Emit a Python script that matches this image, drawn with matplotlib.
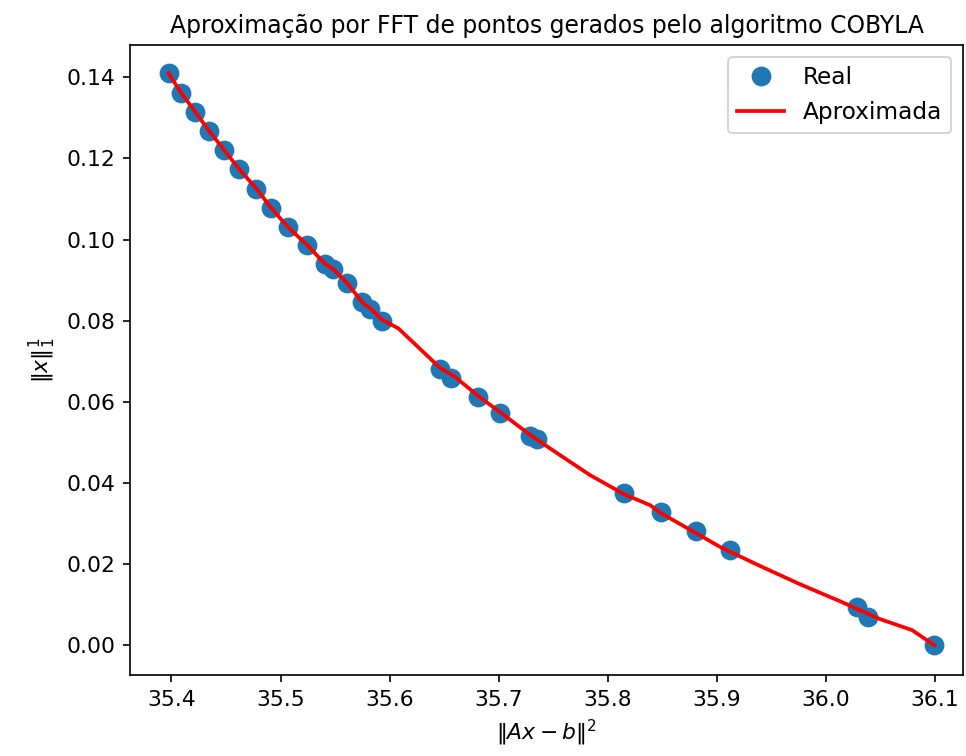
import numpy as np
import matplotlib
matplotlib.use("Agg")
from matplotlib import pyplot as plt

# pontos reais (COBYLA)
x_real = [35.3973, 35.4092, 35.4220, 35.4348, 35.4486, 35.4623, 35.4779,
          35.4917, 35.5072, 35.5247, 35.5412, 35.5485, 35.5613, 35.5751,
          35.5824, 35.5934, 35.6466, 35.6566, 35.6814, 35.7016, 35.7291,
          35.7355, 35.8152, 35.8491, 35.8812, 35.9124, 36.0288, 36.0389,
          36.0994]
y_real = [0.1410, 0.1361, 0.1314, 0.1267, 0.1220, 0.1173, 0.1126,
          0.1077, 0.1030, 0.0986, 0.0939, 0.0927, 0.0892, 0.0845,
          0.0830, 0.0799, 0.0680, 0.0658, 0.0611, 0.0572, 0.0515,
          0.0508, 0.0375, 0.0328, 0.0281, 0.0234, 0.0094, 0.0069,
          0.0000]

# curva aproximada (FFT)
x_aprox = [35.3973, 35.4092, 35.4220, 35.4348, 35.4486, 35.4623, 35.4779,
           35.4917, 35.5072, 35.5247, 35.5412, 35.5485, 35.5613, 35.5751,
           35.5824, 35.5934, 35.6081, 35.6466, 35.6603, 35.6814, 35.7016,
           35.7291, 35.7566, 35.7840, 35.8152, 35.8390, 35.8491, 35.8812,
           35.9032, 35.9399, 35.9765, 36.0132, 36.0499, 36.0792, 36.0994]
y_aprox = [0.1410, 0.1361, 0.1314, 0.1267, 0.1220, 0.1173, 0.1126,
           0.1077, 0.1030, 0.0986, 0.0939, 0.0927, 0.0892, 0.0845,
           0.0830, 0.0802, 0.0781, 0.0683, 0.0661, 0.0614, 0.0574,
           0.0518, 0.0468, 0.0419, 0.0372, 0.0345, 0.0325, 0.0276,
           0.0242, 0.0195, 0.0150, 0.0108, 0.0064, 0.0037, 0.0000]

plt.rcParams['font.size'] = 10.5

fig = plt.figure(figsize=(6.44, 5.04), dpi=150)
ax = fig.add_axes([0.1346, 0.107, 0.8624, 0.833])

ax.plot(x_real, y_real, 'o', color='tab:blue', markersize=8.5, label='Real')
ax.plot(x_aprox, y_aprox, color='red', linewidth=1.8, label='Aproximada')

ax.set_xlim(35.362, 36.126)
ax.set_ylim(-0.0074, 0.1479)
ax.set_title('Aproximação por FFT de pontos gerados pelo algoritmo COBYLA', fontsize=11.3)
ax.set_xlabel(r'$\|Ax - b\|^2$')
ax.set_ylabel(r'$\|x\|_1^1$')
ax.legend(loc='upper right', fontsize=11.2)

fig.savefig('out.png', dpi=150)
